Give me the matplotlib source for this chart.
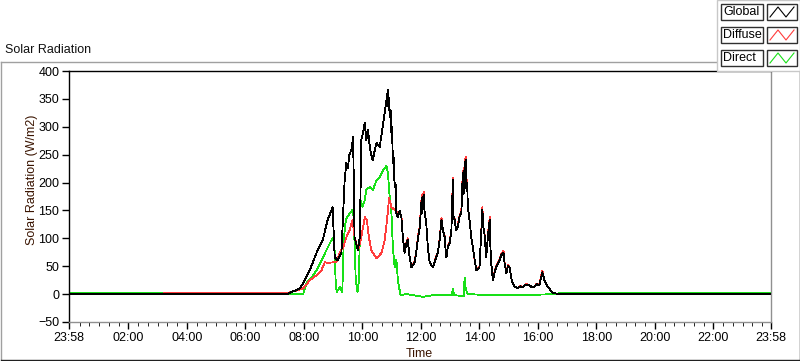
import matplotlib
matplotlib.use("Agg")
import matplotlib.pyplot as plt
from matplotlib.patches import Rectangle
from matplotlib.lines import Line2D

plt.rcParams['font.family'] = ['Liberation Sans', 'DejaVu Sans']

# time in hours since midnight (axis runs 23:58 -> 23:58)
global_hours = [-0.033, 7.41, 7.86, 8.03, 8.20, 8.43, 8.64, 8.81, 8.98, 9.05, 9.15, 9.28, 9.39, 9.45,
                9.50, 9.55, 9.62, 9.68, 9.73, 9.84, 9.91, 9.96, 10.02, 10.08, 10.13, 10.19, 10.25,
                10.30, 10.35, 10.42, 10.48, 10.59, 10.69, 10.82, 10.87, 10.89, 10.91, 10.93, 10.96,
                10.99, 11.01, 11.04, 11.06, 11.10, 11.13, 11.16, 11.21, 11.27,
                11.33, 11.38, 11.44, 11.50, 11.55, 11.60, 11.67, 11.78, 11.85, 11.90,
                11.96, 12.01, 12.03, 12.05, 12.07, 12.09, 12.12, 12.18, 12.24, 12.30,
                12.41, 12.52, 12.58, 12.64, 12.70, 12.75, 12.81, 12.84, 12.87, 12.92,
                12.98, 13.04, 13.09, 13.11, 13.15, 13.20, 13.26, 13.32, 13.38, 13.43,
                13.46, 13.49, 13.53, 13.55, 13.58, 13.60, 13.66, 13.72, 13.80, 13.89,
                14.00, 14.05, 14.10, 14.13, 14.17, 14.23, 14.30, 14.35, 14.37, 14.40,
                14.46, 14.52, 14.57, 14.63, 14.69, 14.75, 14.82, 14.86, 14.92, 14.97,
                15.03, 15.10, 15.20, 15.31, 15.40, 15.48, 15.60, 15.71, 15.80, 15.88,
                15.95, 16.05, 16.10, 16.15, 16.22, 16.34, 16.51, 16.74, 23.967]
global_rad = [0, 0, 10, 25, 43, 74, 97, 133, 156, 66, 61, 74, 204, 235,
              225, 250, 258, 282, 102, 79, 102, 276, 290, 307, 276, 294, 264,
              250, 240, 258, 271, 264, 300, 348, 366, 330, 352, 318, 330,
              289, 300, 235, 250, 192, 200, 145, 138, 150,
              138, 102, 74, 90, 97, 70, 48, 56, 80, 102,
              120, 163, 145, 175, 160, 178, 150, 127, 80, 56,
              48, 66, 75, 97, 133, 115, 102, 80, 66, 85,
              91, 115, 204, 140, 133, 115, 121, 140, 145, 217,
              180, 230, 240, 190, 200, 157, 133, 102, 74, 43,
              48, 100, 151, 120, 109, 66, 110, 133, 90, 56,
              25, 40, 48, 55, 61, 70, 74, 55, 37, 50,
              48, 25, 13, 11, 14, 13, 17, 16, 12, 13,
              18, 16, 28, 39, 25, 13, 2, 0, 0]

diffuse_hours = [-0.033, 3.20, 3.21, 7.41, 7.97, 8.20, 8.43, 8.60, 8.71, 8.82, 8.99, 9.11, 9.22,
                 9.34, 9.45, 9.56, 9.66, 9.73, 9.85, 9.96, 10.08, 10.15, 10.22, 10.30, 10.48, 10.65,
                 10.76, 10.84, 10.91, 10.99, 11.10, 11.21,
                 11.33, 11.38, 11.44, 11.50, 11.55, 11.60, 11.67, 11.78, 11.85, 11.90,
                 11.96, 12.01, 12.03, 12.05, 12.07, 12.09, 12.12, 12.18, 12.24, 12.30,
                 12.41, 12.52, 12.58, 12.64, 12.70, 12.75, 12.81, 12.84, 12.87, 12.92,
                 12.98, 13.04, 13.09, 13.11, 13.15, 13.20, 13.26, 13.32, 13.38, 13.43,
                 13.46, 13.49, 13.53, 13.55, 13.58, 13.60, 13.66, 13.72, 13.80, 13.89,
                 14.00, 14.05, 14.10, 14.13, 14.17, 14.23, 14.30, 14.35, 14.37, 14.40,
                 14.46, 14.52, 14.57, 14.63, 14.69, 14.75, 14.82, 14.86, 14.92, 14.97,
                 15.03, 15.10, 15.20, 15.31, 15.40, 15.48, 15.60, 15.71, 15.80, 15.88,
                 15.95, 16.05, 16.10, 16.15, 16.22, 16.34, 16.51, 16.74, 23.967]
diffuse_rad = [0, 0, 1.5, 1.5, 10, 25, 34, 43, 57, 56, 57, 57, 74,
               84, 102, 115, 133, 102, 79, 102, 138, 133, 102, 79, 64, 74,
               97, 133, 172, 156, 151, 145,
               142, 102, 74, 92, 100, 70, 48, 58, 80, 104,
               122, 168, 145, 180, 160, 183, 150, 127, 80, 56,
               48, 68, 75, 99, 137, 115, 104, 80, 66, 87,
               94, 115, 208, 140, 135, 115, 124, 140, 150, 221,
               180, 235, 246, 190, 204, 157, 133, 102, 74, 43,
               50, 100, 156, 120, 111, 66, 112, 138, 90, 56,
               25, 42, 50, 57, 63, 72, 78, 55, 37, 52,
               48, 25, 13, 11, 15, 13, 18, 16, 12, 13,
               19, 16, 30, 42, 25, 13, 2, 0, 0]

direct_hours = [-0.033, 3.20, 3.21, 7.97, 8.09, 8.26, 8.43, 8.60, 8.77, 8.94, 9.03, 9.09, 9.13,
                9.22, 9.31, 9.36, 9.43, 9.56, 9.66, 9.70, 9.77, 9.83, 9.88, 9.93, 10.00, 10.08,
                10.13, 10.25, 10.36, 10.48, 10.59, 10.70, 10.82, 10.87, 10.93, 10.99, 11.04, 11.10,
                11.16, 11.21, 11.30, 11.50, 11.73, 12.07, 12.41, 12.87, 13.05, 13.09, 13.13, 13.38,
                13.47, 13.49, 13.53, 13.60, 14.00, 14.50, 15.00, 16.00, 16.60, 16.74, 23.967]
direct_rad = [1.5, 1.5, 0, 0, 20, 30, 43, 61, 79, 97, 102, 13, 4,
              13, 4, 97, 133, 145, 151, 138, 25, 4, 25, 169, 156, 169,
              187, 192, 187, 204, 210, 222, 230, 217, 174, 145, 84, 48,
              61, 25, -2, 0, -2, -5, -2, -2, -2, 9, -2, -3,
              -3, 30, 9, 0, -1, -2, -1, -1, 0, 1.5, 1.5]

series_names = ['Global', 'Diffuse', 'Direct']
series_colors = ['black', '#ff3c3c', '#18e018']

x_ticks = [-1 / 30, 2, 4, 6, 8, 10, 12, 14, 16, 18, 20, 22, 24 - 1 / 30]
x_labels = ['23:58', '02:00', '04:00', '06:00', '08:00', '10:00', '12:00', '14:00',
            '16:00', '18:00', '20:00', '22:00', '23:58']
y_ticks = [-50, 0, 50, 100, 150, 200, 250, 300, 350, 400]

W, H = 800, 361


def fx(px):
    return px / W


def fy(py):
    return 1 - py / H


fig = plt.figure(figsize=(8, 3.61), dpi=100)

# outer panel frame
fig.add_artist(Line2D([fx(0.5), fx(799)], [fy(62), fy(62)], color='#a0a0a0', lw=1))
fig.add_artist(Line2D([fx(0.5), fx(0.5)], [fy(62), fy(359)], color='#a0a0a0', lw=1))
fig.add_artist(Line2D([fx(0.5), fx(799.5)], [fy(359.5), fy(359.5)], color='#202020', lw=1))
fig.add_artist(Line2D([fx(799.5), fx(799.5)], [fy(62), fy(359.5)], color='#202020', lw=1))

fig.text(fx(5), fy(50), 'Solar Radiation', fontsize=9, va='center', ha='left', color='#101010')

ax = fig.add_axes([fx(69), fy(322), fx(771) - fx(69), fy(71) - fy(322)])
line_kw = dict(lw=0.6, antialiased=False)
ax.plot(direct_hours, direct_rad, color=series_colors[2], zorder=2, **line_kw)
ax.plot(diffuse_hours, diffuse_rad, color=series_colors[1], zorder=3, **line_kw)
ax.plot(global_hours, global_rad, color=series_colors[0], zorder=4, **line_kw)

ax.set_xlim(-1 / 30, 24 - 1 / 30)
ax.set_ylim(-50, 400)
ax.set_xticks(x_ticks)
ax.set_xticklabels(x_labels)
ax.set_xticks([m / 3 for m in range(1, 72) if m % 6 != 0], minor=True)
ax.set_yticks(y_ticks)
ax.tick_params(axis='both', labelsize=9, colors='black', width=1)
ax.tick_params(axis='x', which='major', length=5, pad=2)
ax.tick_params(axis='x', which='minor', length=3)
ax.tick_params(axis='y', length=5, pad=2)
for side in ['left', 'top']:
    ax.spines[side].set_color('black')
for side in ['right', 'bottom']:
    ax.spines[side].set_color('#909090')
for s in ax.spines.values():
    s.set_linewidth(1)

fig.text(fx(32), fy(180), 'Solar Radiation (W/m2)', rotation=90, fontsize=9,
         ha='center', va='center', color='#3a1400')
fig.text(fx(419), fy(354), 'Time', fontsize=9, ha='center', va='center', color='#3a1400')

# legend panel in the top-right corner
fig.add_artist(Rectangle((fx(717), fy(71)), fx(83), fy(0) - fy(71), facecolor='white',
                         edgecolor='#c8c8c8', lw=1, zorder=5))
row_tops = [4, 27, 50]
for name, color, top in zip(series_names, series_colors, row_tops):
    fig.add_artist(Rectangle((fx(721), fy(top + 16)), fx(42), fy(0) - fy(16), facecolor='white',
                             edgecolor='#303030', lw=1, zorder=6))
    fig.text(fx(723), fy(top + 8), name, fontsize=9, ha='left', va='center', zorder=7)
    fig.add_artist(Rectangle((fx(767), fy(top + 16)), fx(30), fy(0) - fy(16), facecolor='white',
                             edgecolor='#303030', lw=1, zorder=6))
    zx = [770, 778, 786, 794]
    zy = [top + 13, top + 3, top + 13, top + 3]
    fig.add_artist(Line2D([fx(p) for p in zx], [fy(p) for p in zy], color=color, lw=0.8, zorder=7))

fig.savefig('out.png', dpi=100)
